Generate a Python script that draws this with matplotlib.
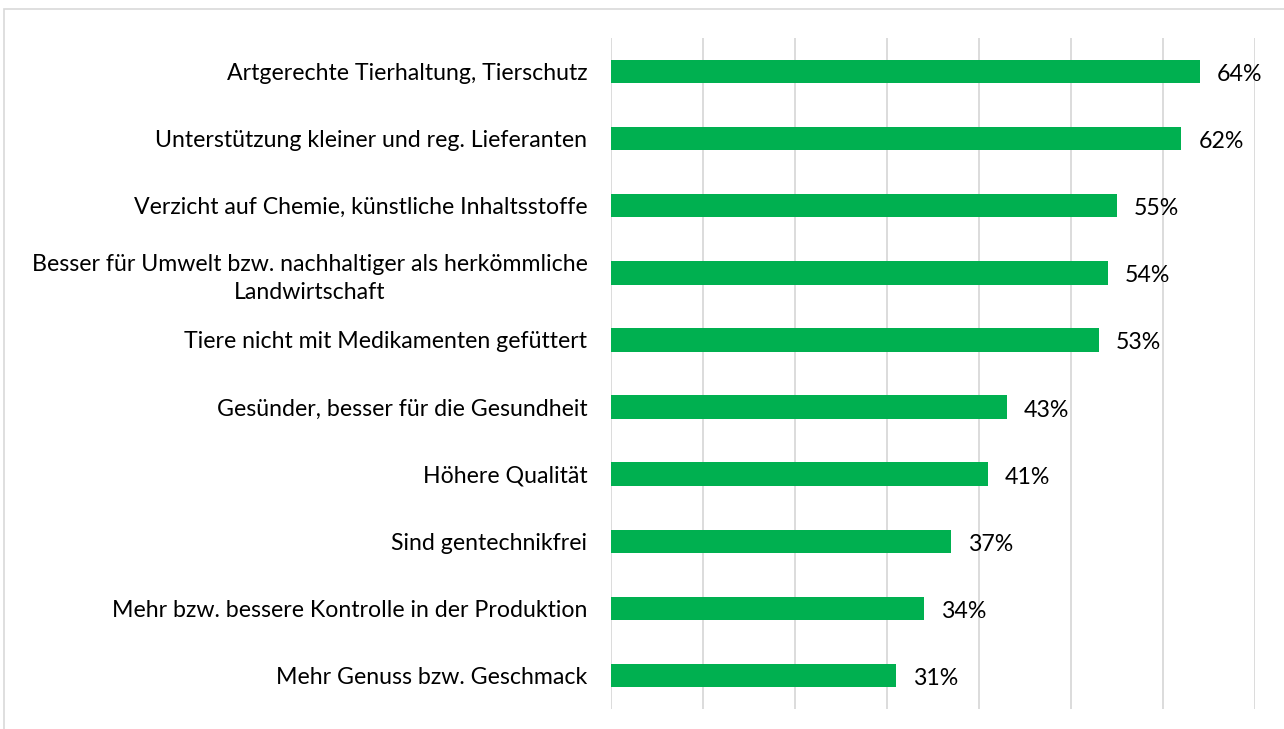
import matplotlib
matplotlib.use("Agg")
import matplotlib.pyplot as plt
from matplotlib.patches import Rectangle

# ---- data -----------------------------------------------------------------
categories = [
    "Artgerechte Tierhaltung, Tierschutz",
    "Unterstützung kleiner und reg. Lieferanten",
    "Verzicht auf Chemie, künstliche Inhaltsstoffe",
    "Besser für Umwelt bzw. nachhaltiger als herkömmliche\nLandwirtschaft",
    "Tiere nicht mit Medikamenten gefüttert",
    "Gesünder, besser für die Gesundheit",
    "Höhere Qualität",
    "Sind gentechnikfrei",
    "Mehr bzw. bessere Kontrolle in der Produktion",
    "Mehr Genuss bzw. Geschmack",
]
values = [0.64, 0.62, 0.55, 0.54, 0.53, 0.43, 0.41, 0.37, 0.34, 0.31]
value_labels = ["64%", "62%", "55%", "54%", "53%", "43%", "41%", "37%", "34%", "31%"]
grid_ticks = [0.0, 0.1, 0.2, 0.3, 0.4, 0.5, 0.6, 0.7]

# ---- style ----------------------------------------------------------------
W, H, DPI = 1284, 729, 100
GREEN = "#00B050"
GRID = "#d9d9d9"
FONT = "Lato"
FS = 16.7

plt.rcParams["font.family"] = [FONT, "DejaVu Sans"]

fig = plt.figure(figsize=(W / DPI, H / DPI), dpi=DPI)
fig.patches.append(Rectangle((4 / W, -0.1), 1.2, 1 - 9 / H + 0.1,
                             transform=fig.transFigure, fill=False,
                             edgecolor="#d9d9d9", linewidth=1.2))

ax = fig.add_axes([611 / W, 1 - 709 / H, (1255 - 611) / W, (709 - 38) / H])
n = len(categories)
ypos = list(range(n))
ax.barh(ypos, values, height=0.35, color=GREEN, zorder=3)
ax.set_xlim(0, 0.7)
ax.set_ylim(n - 0.5, -0.5)

ax.set_xticks(grid_ticks)
ax.xaxis.grid(True, color=GRID, linewidth=1.3, zorder=0)
ax.tick_params(axis="x", length=0, labelbottom=False)
ax.tick_params(axis="y", length=0, pad=17)
ax.set_yticks(ypos)
ax.set_yticklabels(categories, fontsize=FS, color="#000000",
                   multialignment="center", linespacing=1.4)
for s in ax.spines.values():
    s.set_visible(False)

for y, v, lab in zip(ypos, values, value_labels):
    ax.annotate(lab, (v, y), xytext=(17, -3), textcoords="offset pixels",
                ha="left", va="center", fontsize=FS, color="#000000")

fig.savefig("out.png", dpi=DPI, facecolor="white")
